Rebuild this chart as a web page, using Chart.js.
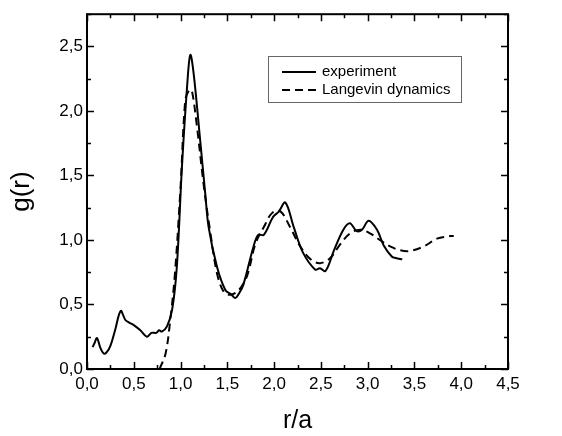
<!DOCTYPE html>
<html>
<head>
<meta charset="utf-8">
<script src="https://cdn.jsdelivr.net/npm/chart.js@4.4.0/dist/chart.umd.min.js"></script>
<style>
  html, body { margin: 0; padding: 0; background: #fff; }
  #wrap { width: 562px; height: 436px; }
</style>
</head>
<body>
<div id="wrap"><canvas id="gr"></canvas></div>
<script>
// experiment (solid line)
const expX = [0.06, 0.08, 0.107, 0.14, 0.178, 0.21, 0.25, 0.3, 0.36, 0.41, 0.45, 0.5, 0.57, 0.64, 0.69, 0.74, 0.77, 0.8, 0.855, 0.91, 0.96, 1.015, 1.07, 1.104, 1.14, 1.21, 1.264, 1.3, 1.39, 1.48, 1.54, 1.585, 1.62, 1.67, 1.78, 1.83, 1.89, 1.99, 2.05, 2.12, 2.21, 2.31, 2.44, 2.49, 2.55, 2.64, 2.74, 2.81, 2.88, 2.94, 3.01, 3.1, 3.17, 3.26, 3.3, 3.37];
const expY = [0.17, 0.2, 0.24, 0.17, 0.12, 0.13, 0.18, 0.3, 0.45, 0.38, 0.36, 0.34, 0.3, 0.25, 0.28, 0.28, 0.3, 0.29, 0.33, 0.46, 0.79, 1.57, 2.19, 2.435, 2.29, 1.77, 1.36, 1.1, 0.79, 0.61, 0.58, 0.55, 0.58, 0.65, 0.95, 1.04, 1.04, 1.18, 1.22, 1.29, 1.1, 0.9, 0.77, 0.78, 0.76, 0.92, 1.08, 1.13, 1.07, 1.08, 1.15, 1.08, 0.96, 0.87, 0.86, 0.85];

// Langevin dynamics (dashed line)
const ldX = [0.776, 0.84, 0.89, 0.94, 1.0, 1.05, 1.09, 1.12, 1.175, 1.25, 1.32, 1.39, 1.46, 1.53, 1.62, 1.71, 1.8, 1.89, 1.98, 2.07, 2.17, 2.28, 2.39, 2.49, 2.6, 2.71, 2.81, 2.92, 3.03, 3.13, 3.24, 3.35, 3.45, 3.6, 3.74, 3.88, 3.92];
const ldY = [0.0, 0.12, 0.38, 0.74, 1.41, 2.08, 2.16, 2.16, 1.88, 1.41, 1.05, 0.74, 0.6, 0.575, 0.61, 0.72, 0.97, 1.1, 1.21, 1.22, 1.1, 0.95, 0.85, 0.82, 0.86, 0.97, 1.05, 1.08, 1.05, 1.0, 0.95, 0.92, 0.915, 0.95, 1.01, 1.03, 1.03];

const seriesNames = ['experiment', 'Langevin dynamics'];
const xTicks = [0, 0.5, 1, 1.5, 2, 2.5, 3, 3.5, 4, 4.5];
const yTicks = [0, 0.5, 1, 1.5, 2, 2.5];

const fmt = v => v.toFixed(1).replace('.', ',');
const toPts = (xs, ys) => xs.map((x, i) => ({ x: x, y: ys[i] }));

// inward ticks on all four sides + legend box
const framePlugin = {
  id: 'frame',
  afterDraw(chart) {
    const c = chart.ctx, a = chart.chartArea;
    const xs = chart.scales.x, ys = chart.scales.y;
    c.save();
    c.strokeStyle = '#000';
    c.lineWidth = 2;
    c.strokeRect(a.left, a.top, a.right - a.left, a.bottom - a.top);
    c.lineWidth = 1.5;
    c.beginPath();
    for (let v = 0; v <= 4.5001; v += 0.25) {
      const px = Math.round(xs.getPixelForValue(v)) + 0.5;
      const len = Math.abs(v * 2 - Math.round(v * 2)) < 1e-6 ? 7 : 4;
      c.moveTo(px, a.bottom); c.lineTo(px, a.bottom - len);
      c.moveTo(px, a.top); c.lineTo(px, a.top + len);
    }
    for (let v = 0; v <= 2.75; v += 0.25) {
      const py = Math.round(ys.getPixelForValue(v)) + 0.5;
      const len = Math.abs(v * 2 - Math.round(v * 2)) < 1e-6 ? 7 : 4;
      c.moveTo(a.left, py); c.lineTo(a.left + len, py);
      c.moveTo(a.right, py); c.lineTo(a.right - len, py);
    }
    c.stroke();

    // legend
    const bx = 268, by = 56, bw = 193, bh = 46;
    c.lineWidth = 1;
    c.strokeStyle = '#666';
    c.strokeRect(bx + 0.5, by + 0.5, bw, bh);
    c.font = '15px "Liberation Sans", Arial, sans-serif';
    c.textBaseline = 'middle';
    c.fillStyle = '#000';
    chart.data.datasets.forEach((ds, i) => {
      const yy = by + 16 + i * 18;
      c.strokeStyle = '#000';
      c.lineWidth = 2;
      c.setLineDash(ds.borderDash || []);
      c.beginPath();
      c.moveTo(282, yy); c.lineTo(316, yy);
      c.stroke();
      c.setLineDash([]);
      c.fillText(ds.label, 322, yy);
    });
    c.restore();
  }
};

new Chart(document.getElementById('gr'), {
  type: 'line',
  data: {
    datasets: [{
      label: seriesNames[0],
      data: toPts(expX, expY),
      borderColor: '#000',
      borderWidth: 2,
      pointRadius: 0,
      tension: 0.35,
      fill: false
    }, {
      label: seriesNames[1],
      data: toPts(ldX, ldY),
      borderColor: '#000',
      borderWidth: 2,
      borderDash: [8, 5],
      pointRadius: 0,
      tension: 0.35,
      fill: false
    }]
  },
  options: {
    responsive: true,
    maintainAspectRatio: false,
    animation: false,
    layout: { padding: { left: 0, top: 13, right: 54, bottom: 0 } },
    plugins: { legend: { display: false }, tooltip: { enabled: false } },
    scales: {
      x: {
        type: 'linear',
        min: 0,
        max: 4.5,
        afterBuildTicks: s => { s.ticks = xTicks.map(v => ({ value: v })); },
        afterFit: s => { s.height = 67; },
        grid: { display: false, drawTicks: false },
        border: { display: false },
        ticks: {
          color: '#000',
          padding: 5,
          maxRotation: 0,
          font: { family: '"Liberation Sans", Arial, sans-serif', size: 17 },
          callback: v => fmt(v)
        },
        title: {
          display: true,
          text: 'r/a',
          color: '#000',
          padding: { top: 0, bottom: 0 },
          font: { family: '"Liberation Sans", Arial, sans-serif', size: 25 }
        }
      },
      y: {
        type: 'linear',
        min: 0,
        max: 2.75,
        afterBuildTicks: s => { s.ticks = yTicks.map(v => ({ value: v })); },
        afterFit: s => { s.width = 87; },
        grid: { display: false, drawTicks: false },
        border: { display: false },
        ticks: {
          color: '#000',
          padding: 4,
          font: { family: '"Liberation Sans", Arial, sans-serif', size: 17 },
          callback: v => fmt(v)
        },
        title: {
          display: true,
          text: 'g(r)',
          color: '#000',
          padding: { top: 6, bottom: 0 },
          font: { family: '"Liberation Sans", Arial, sans-serif', size: 26 }
        }
      }
    }
  },
  plugins: [framePlugin]
});
</script>
</body>
</html>
